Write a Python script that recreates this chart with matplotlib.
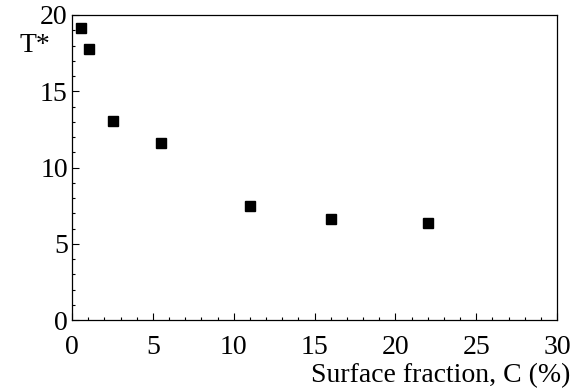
import matplotlib
matplotlib.use("Agg")
from matplotlib import pyplot as plt
from matplotlib.ticker import MultipleLocator

# surface fraction C (%) and reduced temperature T*
surface_fraction = [0.55, 1.05, 2.55, 5.5, 11.0, 16.0, 22.0]
t_star = [19.15, 17.8, 13.05, 11.6, 7.5, 6.6, 6.35]

plt.rcParams['font.family'] = ['Liberation Serif', 'DejaVu Serif']
plt.rcParams['font.size'] = 20

fig = plt.figure(figsize=(5.71, 3.89), dpi=100)
ax = fig.add_axes([72 / 571, 1 - 320 / 389, 485 / 571, 305 / 389])

ax.plot(surface_fraction, t_star, 's', color='black', markersize=7, clip_on=False)

ax.set_xlim(0, 30)
ax.set_ylim(0, 20)
ax.xaxis.set_major_locator(MultipleLocator(5))
ax.xaxis.set_minor_locator(MultipleLocator(1))
ax.yaxis.set_major_locator(MultipleLocator(5))
ax.yaxis.set_minor_locator(MultipleLocator(1))
ax.tick_params(which='both', direction='in', top=False, right=False, width=0.8)
ax.tick_params(which='major', length=5)
ax.tick_params(which='minor', length=2.5)
ax.tick_params(axis='x', pad=11)
ax.tick_params(axis='y', pad=3)

for side in ax.spines.values():
    side.set_linewidth(0.9)

fig.text(20 / 571, 1 - 45 / 389, 'T*', ha='left', va='center')
fig.text(570 / 571, 1 - 376 / 389, 'Surface fraction, C (%)', ha='right', va='center')

fig.savefig('out.png', dpi=100)
